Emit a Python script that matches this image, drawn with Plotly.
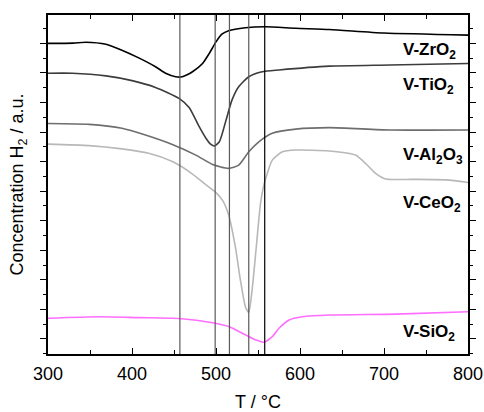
import plotly.graph_objects as go

# ---- data ----
zr_T = [300, 330, 345, 369, 388, 408, 428, 440, 452, 458, 465, 472, 484, 492, 500, 507, 515, 535, 559, 595, 635, 700, 800]
zr_y = [10.00, 10.01, 10.04, 9.97, 9.77, 9.51, 9.21, 8.99, 8.87, 8.86, 8.93, 9.04, 9.32, 9.66, 10.05, 10.31, 10.43, 10.53, 10.56, 10.51, 10.47, 10.35, 10.28]

ti_T = [300, 329, 369, 400, 428, 456, 468, 480, 488, 494, 498, 504, 512, 519, 527, 539, 555, 575, 635, 707, 800]
ti_y = [8.99, 8.99, 8.90, 8.74, 8.51, 8.14, 7.83, 7.18, 6.79, 6.58, 6.53, 6.67, 7.41, 8.08, 8.53, 8.87, 9.04, 9.10, 9.23, 9.27, 9.32]

al_T = [300, 349, 388, 416, 448, 476, 496, 515, 527, 539, 551, 567, 595, 635, 707, 800]
al_y = [7.29, 7.26, 7.13, 6.90, 6.58, 6.22, 5.90, 5.77, 5.88, 6.33, 6.67, 6.96, 7.10, 7.15, 7.07, 7.07]

ce_T = [300, 349, 388, 420, 448, 468, 480, 492, 500, 508, 515, 523, 529, 535, 539, 543, 548, 553, 557, 561, 567, 579, 595, 635, 666, 678, 690, 702, 734, 774, 800]
ce_y = [6.59, 6.54, 6.43, 6.28, 6.00, 5.66, 5.40, 5.13, 4.95, 4.68, 4.20, 3.12, 2.00, 1.09, 0.90, 1.66, 3.12, 4.59, 5.21, 5.60, 6.05, 6.33, 6.39, 6.36, 6.22, 5.94, 5.60, 5.41, 5.40, 5.38, 5.29]

si_T = [300, 361, 408, 456, 496, 515, 535, 547, 557, 567, 575, 587, 603, 635, 714, 800]
si_y = [0.70, 0.75, 0.72, 0.69, 0.55, 0.42, 0.14, -0.03, -0.11, 0.08, 0.36, 0.64, 0.75, 0.81, 0.84, 0.92]

series_names = ["V-ZrO<sub>2</sub>", "V-TiO<sub>2</sub>", "V-Al<sub>2</sub>O<sub>3</sub>", "V-CeO<sub>2</sub>", "V-SiO<sub>2</sub>"]
series_colors = ["#000000", "#3c3c3c", "#6e6e6e", "#b8b8b8", "#ff6eff"]
label_y = [9.74, 8.55, 6.18, 4.55, 0.20]
label_x = 720

peak_lines = [457, 499, 516, 539, 558]
peak_colors = ["#5a5a5a", "#5a5a5a", "#5a5a5a", "#5a5a5a", "#000000"]

FONT = "Liberation Sans, Arial, sans-serif"

fig = go.Figure()
for T, y, name, c in zip([zr_T, ti_T, al_T, ce_T, si_T], [zr_y, ti_y, al_y, ce_y, si_y],
                         series_names, series_colors):
    fig.add_trace(go.Scatter(x=T, y=y, mode="lines", name=name,
                             line=dict(color=c, width=1.6, shape="spline", smoothing=0.6),
                             showlegend=False, hoverinfo="skip"))

for px, pc in zip(peak_lines, peak_colors):
    fig.add_shape(type="line", xref="x", yref="paper", x0=px, x1=px, y0=0, y1=1,
                  line=dict(color=pc, width=1.2))

for name, ly in zip(series_names, label_y):
    fig.add_annotation(x=label_x, y=ly, xref="x", yref="y", text="<b>" + name + "</b>",
                       showarrow=False, xanchor="left", yanchor="middle",
                       font=dict(family=FONT, size=17, color="#000000"))

fig.update_layout(
    width=484, height=412,
    margin=dict(l=48, r=16, t=15, b=58),
    paper_bgcolor="white", plot_bgcolor="white",
    font=dict(family=FONT, size=18, color="#000000"),
)
fig.update_xaxes(range=[300, 800], dtick=100, tick0=300, showgrid=False, zeroline=False,
                 showline=True, linecolor="black", linewidth=1.5, mirror="ticks",
                 ticks="inside", ticklen=6, tickwidth=1.2, tickcolor="black",
                 minor=dict(dtick=50, ticks="inside", ticklen=4, tickcolor="black", tickwidth=1.2),
                 ticklabelstandoff=3, automargin=False,
                 title=dict(text="T / °C", font=dict(size=18), standoff=14),
                 tickfont=dict(size=18))
fig.update_yaxes(range=[-0.51, 10.96], dtick=1, tick0=0, showgrid=False, zeroline=False,
                 showline=True, linecolor="black", linewidth=1.5, mirror="ticks",
                 ticks="outside", ticklen=6, tickwidth=1.2, tickcolor="black",
                 minor=dict(dtick=0.5, ticks="outside", ticklen=3, tickcolor="black", tickwidth=1.2),
                 showticklabels=False, automargin=False,
                 title=dict(text="Concentration H<sub>2</sub> / a.u.", font=dict(size=18), standoff=12))

fig.write_html("out.html", config={"displayModeBar": False},
               post_script="document.body.style.margin='0';document.body.style.overflow='hidden';")
